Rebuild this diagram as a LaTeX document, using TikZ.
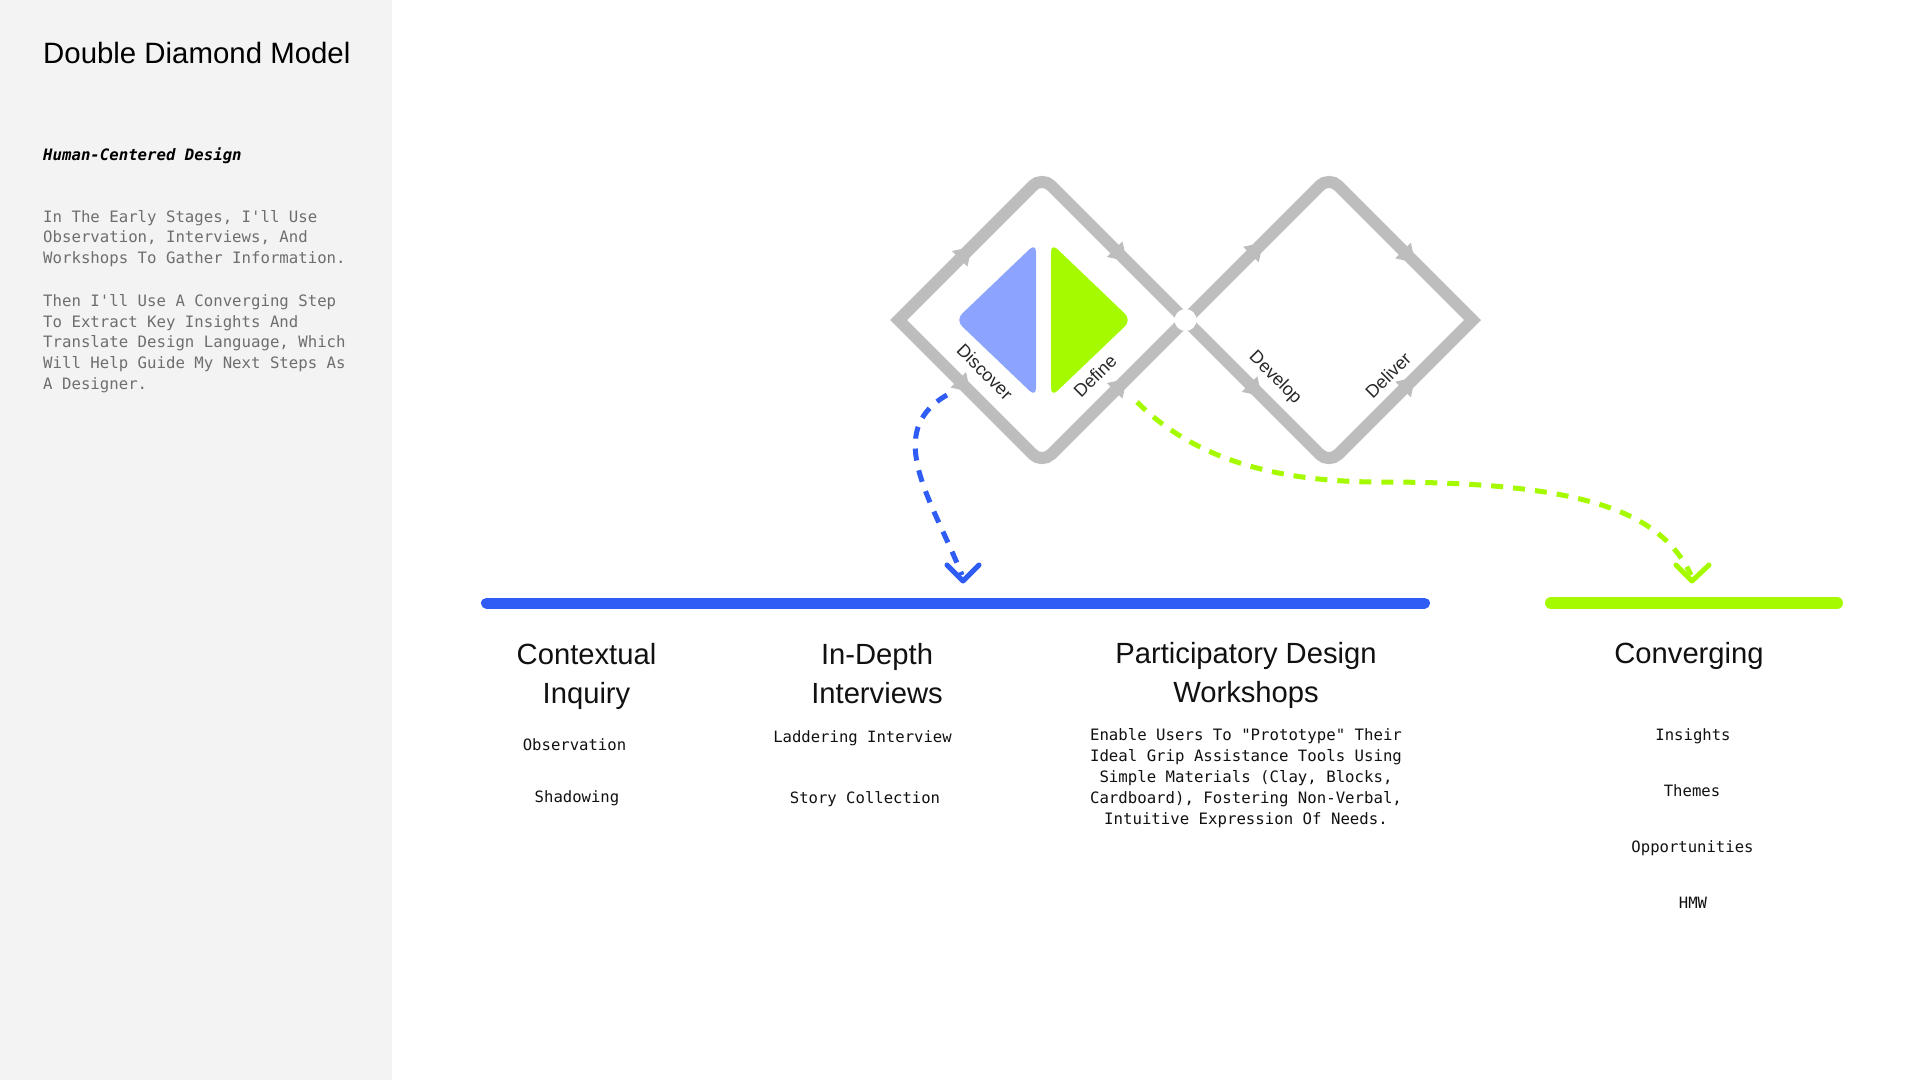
\documentclass[tikz,border=0pt]{standalone}
\usepackage{fontspec}
\setmainfont{Liberation Sans}
\newfontfamily\dmono{DejaVu Sans Mono}[BoldFont={DejaVu Sans Mono Bold},ItalicFont={DejaVu Sans Mono Oblique},BoldItalicFont={DejaVu Sans Mono Bold Oblique}]
\definecolor{sidebg}{HTML}{F3F3F3}
\definecolor{diagray}{HTML}{BDBDBD}
\definecolor{dblue}{HTML}{2F5CF5}
\definecolor{lblue}{HTML}{8CA4FD}
\definecolor{lime}{HTML}{A6FA00}
\definecolor{bodygray}{HTML}{6E6E6E}
\definecolor{ink}{HTML}{111111}
\newcommand\setfs[2]{\fontsize{#1pt}{#2pt}\selectfont}
\newcommand\dmarrow[2]{\begin{scope}[shift={(#1)},rotate=#2]\fill[diagray] (0,0) -- (-17,11) -- (-17,-11) -- cycle;\end{scope}}
\tikzset{
  head/.style={font=\setfs{29.2}{39.5}, text=ink, align=center, inner sep=0pt, anchor=north},
  item/.style={font=\dmono\setfs{15.6}{21}, text=ink, inner sep=0pt, anchor=base},
  phase/.style={font=\setfs{18}{20}, text=ink!90, fill=white, inner sep=1.5pt},
  dmline/.style={draw=diagray, line width=12pt, line join=miter},
  dashline/.style={line width=5pt, dash pattern=on 12pt off 10pt},
  chev/.style={line width=5pt, line cap=round, line join=round},
  bar/.style={line width=11pt, line cap=round}
}
\begin{document}
\begin{tikzpicture}[x=1pt,y=1pt]
\useasboundingbox (0,0) rectangle (1920,-1080);
\fill[white] (0,0) rectangle (1920,-1080);
\fill[sidebg] (0,0) rectangle (392,-1080);

% sidebar text
\node[font=\setfs{29.4}{35}, text=black, inner sep=0pt, anchor=base west] (title) at (43,-63) {Double Diamond Model};
\node[font=\dmono\bfseries\itshape\setfs{15.7}{21}, text=black, inner sep=0pt, anchor=base west] (subtitle) at (43,-160) {Human-Centered Design};
\node[font=\dmono\setfs{15.7}{20.75}, text=bodygray, inner sep=0pt, anchor=north west, align=left] (intro) at (43,-207.5)
  {\strut In The Early Stages, I'll Use\\Observation, Interviews, And\\Workshops To Gather Information.\\[22pt]Then I'll Use A Converging Step\\To Extract Key Insights And\\Translate Design Language, Which\\Will Help Guide My Next Steps As\\A Designer.};

% diamond geometry
\coordinate (Lw) at (898.5,-320);
\coordinate (Ln) at (1042,-176.5);
\coordinate (Ls) at (1042,-463.5);
\coordinate (J) at (1185.5,-320);
\coordinate (Rn) at (1329,-176.5);
\coordinate (Rs) at (1329,-463.5);
\coordinate (Re) at (1472.5,-320);

\draw[dmline] (Lw) -- (1032.81,-185.69) arc[start angle=135,end angle=45,radius=13pt] -- (J) -- (1051.19,-454.31) arc[start angle=-45,end angle=-135,radius=13pt] -- cycle;
\draw[dmline] (J) -- (1319.81,-185.69) arc[start angle=135,end angle=45,radius=13pt] -- (Re) -- (1338.19,-454.31) arc[start angle=-45,end angle=-135,radius=13pt] -- cycle;

% arrowheads on the diamond edges
\coordinate (aL1) at (971.7,-246.8);
\coordinate (aL2) at (1126.7,-261.2);
\coordinate (aL3) at (970.3,-391.8);
\coordinate (aL4) at (1126.7,-378.8);
\coordinate (aR1) at (1263,-242.5);
\coordinate (aR2) at (1415.1,-262.6);
\coordinate (aR3) at (1261.6,-396.1);
\coordinate (aR4) at (1415.1,-377.4);
\dmarrow{aL1}{45}
\dmarrow{aL2}{-45}
\dmarrow{aL3}{-45}
\dmarrow{aL4}{45}
\dmarrow{aR1}{45}
\dmarrow{aR2}{-45}
\dmarrow{aR3}{-45}
\dmarrow{aR4}{45}

% inner half-diamonds
\fill[lblue, rounded corners=9pt] (1036,-243) -- (955.5,-320) -- (1036,-397) -- cycle;
\fill[lime, rounded corners=9pt] (1051,-243) -- (1131.5,-320) -- (1051,-397) -- cycle;

% junction
\fill[white] (J) circle[radius=11pt];

% phase labels
\node[phase, rotate=-45] (lDiscover) at (985,-372) {Discover};
\node[phase, rotate=45] (lDefine) at (1095,-376) {Define};
\node[phase, rotate=-45] (lDevelop) at (1275,-378) {Develop};
\node[phase, rotate=45] (lDeliver) at (1388,-375) {Deliver};

% dashed connectors
\coordinate (bS) at (947,-395);
\coordinate (bE) at (962,-575);
\coordinate (bT) at (963,-581);
\draw[dashline, draw=dblue] (bS) .. controls (882,-432) and (932,-500) .. (bE);
\draw[chev, draw=dblue] (947,-565) -- (bT) -- (979,-565);

\coordinate (gS) at (1137,-402);
\coordinate (gM) at (1380,-482);
\coordinate (gE) at (1691,-575);
\coordinate (gT) at (1692,-581);
\draw[dashline, draw=lime] (gS) .. controls (1200,-465) and (1290,-482) .. (gM) .. controls (1580,-482) and (1660,-510) .. (gE);
\draw[chev, draw=lime] (1676,-565) -- (gT) -- (1709,-565);

% bars
\coordinate (bb1) at (486.5,-603);
\coordinate (bb2) at (1424.5,-603);
\coordinate (gb1) at (1551,-603);
\coordinate (gb2) at (1837,-603);
\draw[bar, draw=dblue] (bb1) -- (bb2);
\draw[bar, draw=lime, line width=12pt] (gb1) -- (gb2);

% headings
\node[head] (hCI) at (586.5,-636.35) {\strut Contextual\\Inquiry};
\node[head] (hIDI) at (877,-636.35) {\strut In-Depth\\Interviews};
\node[head] (hPDW) at (1246,-635.35) {\strut Participatory Design\\Workshops};
\node[head, anchor=base] (hConv) at (1689,-663) {Converging};

% items
\node[item] (iObs) at (574.5,-750) {Observation};
\node[item] (iShad) at (577,-802) {Shadowing};
\node[item] (iLad) at (862.5,-742) {Laddering Interview};
\node[item] (iStory) at (865,-803) {Story Collection};
\node[item, anchor=north, align=center, font=\dmono\setfs{15.7}{21}] (pPDW) at (1246,-725.3)
  {\strut Enable Users To "Prototype" Their\\Ideal Grip Assistance Tools Using\\Simple Materials (Clay, Blocks,\\Cardboard), Fostering Non-Verbal,\\Intuitive Expression Of Needs.};
\node[item] (iIns) at (1693,-740) {Insights};
\node[item] (iThm) at (1692,-796) {Themes};
\node[item] (iOpp) at (1692.5,-852) {Opportunities};
\node[item] (iHMW) at (1693,-908) {HMW};
\end{tikzpicture}
\end{document}
